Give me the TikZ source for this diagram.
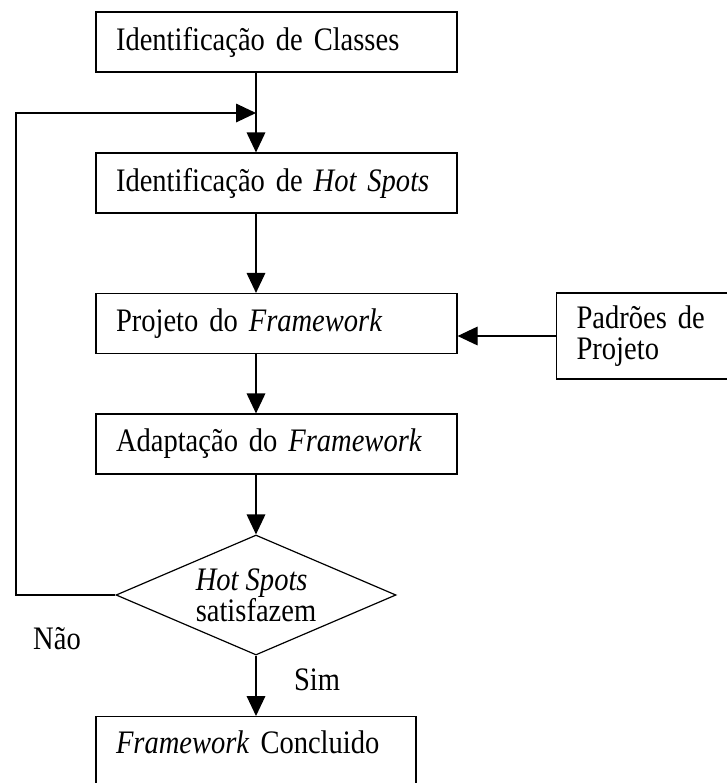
\documentclass[tikz,border=0pt]{standalone}
\usepackage{fontspec}
\setmainfont{Liberation Serif}[FakeStretch=0.87]
\usetikzlibrary{arrows.meta,shapes.geometric}

\begin{document}
\begin{tikzpicture}[x=0.75pt, y=-0.75pt, line width=0.9pt,
    font=\fontsize{24.6}{23.5}\selectfont,
    >={Triangle[length=15pt,width=14pt]},
    etapa/.style={draw, rectangle, minimum height=45pt, inner xsep=15pt,
      text width=240.75pt, align=left},
    fonte/.style={draw, rectangle, minimum height=64.5pt, inner xsep=15pt,
      text width=138pt, align=left},
    aberta/.style={draw, rectangle, inner xsep=15pt, inner ysep=15pt,
      text width=210pt, text height=12.75pt, text depth=40pt, align=left},
    decisao/.style={draw, diamond, shape aspect=2.33, inner sep=0pt,
      minimum width=210pt, minimum height=90pt, align=left},
    rotulo/.style={anchor=base}]
  \useasboundingbox (0,0) rectangle (727,783);

  % --- etapas do processo ---
  \node[etapa] (cls)   at (276.5,42)    {Identificação de Classes};
  \node[etapa] (hot)   at (276.5,183)   {Identificação de \textit{Hot Spots}};
  \node[etapa] (proj)  at (276.5,323.5) {Projeto do \textit{Framework}};
  \node[etapa] (adapt) at (276.5,444)   {Adaptação do \textit{Framework}};
  \node[fonte, anchor=west] (pad) at (556,336) {Padrões de\\Projeto};
  \node[decisao] (dia) at (256,595) {\textit{Hot Spots}\\satisfazem};
  \node[aberta, anchor=north] (fim) at (256,716) {\textit{Framework} Concluido};

  \node[rotulo] (nao) at (57,649)  {Não};
  \node[rotulo] (sim) at (317,690) {Sim};

  % --- ligacoes ---
  \coordinate (volta) at (16,113);
  \coordinate (junta) at (256,113);

  \draw[->] (cls.south -| dia) -- (hot.north -| dia);
  \draw[->] (hot.south -| dia) -- (proj.north -| dia);
  \draw[->] (proj.south -| dia) -- (adapt.north -| dia);
  \draw[->] (adapt.south -| dia) -- (dia.north);
  \draw[->] (dia.south) -- (fim.north);
  \draw[->] (pad.west) -- (pad.west -| proj.east);
  \draw[->] (dia.west) -- (dia.west -| volta) -- (volta) -- (junta);
\end{tikzpicture}
\end{document}
